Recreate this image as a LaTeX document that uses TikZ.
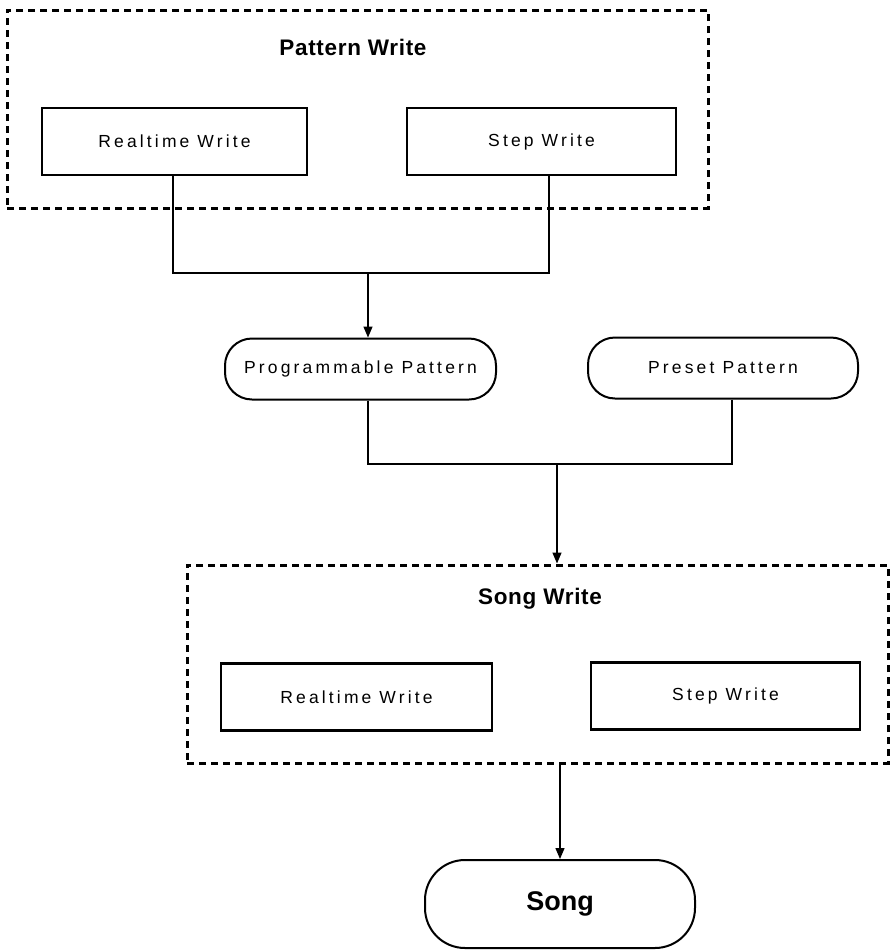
\documentclass[tikz,border=0pt]{standalone}
\usepackage{fontspec}
\setmainfont{Liberation Sans}
\newfontfamily\trackedfont[LetterSpace=18]{Liberation Sans}
\newfontfamily\titlefont[LetterSpace=3]{Liberation Sans}
\usetikzlibrary{arrows.meta}
\newcommand{\wordgap}{\hspace{8pt}}
\begin{document}
\begin{tikzpicture}[x=1pt,y=-1pt,
  frame/.style={draw, line width=3pt, dash pattern=on 7pt off 5pt, inner sep=0pt},
  stage/.style={draw, line width=2.2pt, minimum width=268pt, minimum height=67pt, inner sep=0pt,
    font=\trackedfont\fontsize{17.5}{20}\selectfont},
  pill/.style={draw, line width=2pt, rounded corners=27pt, minimum width=271pt, minimum height=61pt,
    inner sep=0pt, font=\trackedfont\fontsize{17.5}{20}\selectfont},
  heading/.style={font=\titlefont\bfseries\fontsize{22.5}{26}\selectfont, inner sep=0pt},
  link/.style={line width=1.3pt},
  arr/.style={link, -{Triangle[length=11pt,width=9pt]}}]
\useasboundingbox (0,0) rectangle (892,951);

% Pattern Write group
\node[frame, minimum width=701pt, minimum height=198pt] (pwframe) at (357.5,109) {};
\node[heading] (pwtitle) at (353,47) {Pattern Write};
\node[stage, minimum width=265pt] (prt) at (174.5,141.5) {Realtime\wordgap Write};
\node[stage, minimum width=269pt] (pst) at (541.5,141.5) {Step\wordgap Write};

% Pattern sources
\node[pill] (prog) at (360.5,369) {Programmable\wordgap Pattern};
\node[pill, minimum width=270pt] (pre) at (723,368) {Preset\wordgap Pattern};

% Song Write group
\node[frame, minimum width=701pt, minimum height=198pt] (swframe) at (537.5,664) {};
\node[heading] (swtitle) at (540,599) {Song Write};
\node[stage, minimum width=271pt] (srt) at (356.5,697) {Realtime\wordgap Write};
\node[stage, minimum width=269pt] (sst) at (725.5,696) {Step\wordgap Write};

% Result
\node[draw, line width=2pt, rounded corners=40pt, minimum width=270pt, minimum height=88pt,
  inner sep=0pt, font=\bfseries\fontsize{27}{30}\selectfont] (song) at (560,904) {Song};

% Junctions
\coordinate (j1) at (368,273);
\coordinate (j2) at (557,464);

% Connectors
\draw[link] ([xshift=-1.5pt]prt.south) |- (j1);
\draw[link] ([xshift=7.5pt]pst.south) |- (j1);
\draw[arr] (j1) -- (j1 |- prog.north);
\draw[link] ([xshift=7.5pt]prog.south) |- (j2);
\draw[link] ([xshift=9pt]pre.south) |- (j2);
\draw[arr] (j2) -- (j2 |- swframe.north);
\draw[arr] (song.north |- swframe.south) -- (song.north);
\end{tikzpicture}
\end{document}
